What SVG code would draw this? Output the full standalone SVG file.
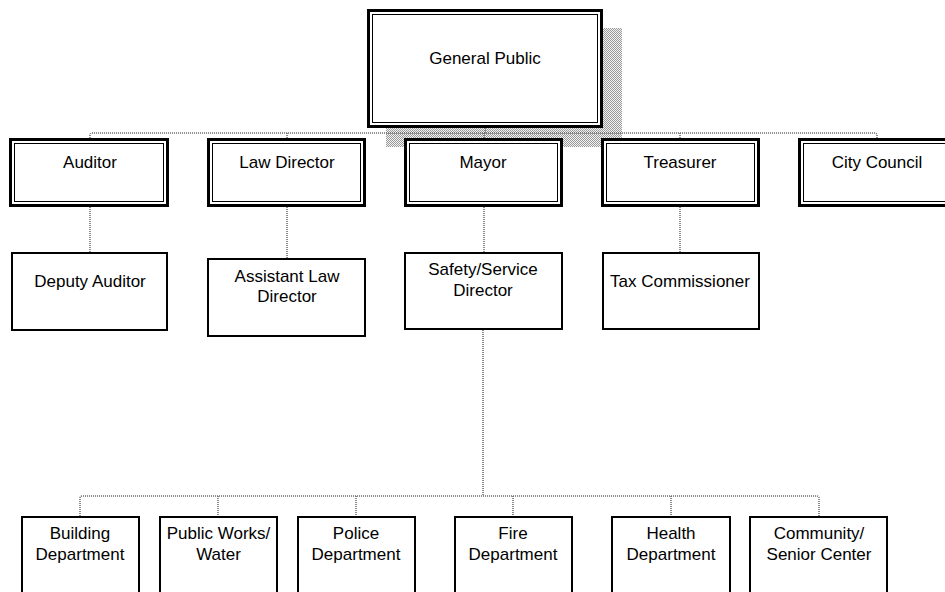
<svg xmlns="http://www.w3.org/2000/svg" width="945" height="592" viewBox="0 0 945 592">
<defs>
<pattern id="dither" patternUnits="userSpaceOnUse" width="2" height="2">
<rect width="2" height="2" fill="#f2f2f2"/>
<rect x="0" y="0" width="1" height="1" fill="#9a9a9a"/>
<rect x="1" y="1" width="1" height="1" fill="#9a9a9a"/>
</pattern>
</defs>
<style>
text{font-family:"Liberation Sans",Arial,Helvetica,sans-serif;font-size:17px;fill:#000;text-anchor:middle}
.o{fill:#fff;stroke:#000;stroke-width:3}
.i{fill:none;stroke:#000;stroke-width:1}
.s{fill:#fff;stroke:#000;stroke-width:2}
.c{fill:none;stroke:#666;stroke-width:1.5;stroke-dasharray:1 1}
</style>
<rect width="945" height="592" fill="#fff"/>
<g id="shadow">
<rect x="386" y="28" width="236" height="119" fill="url(#dither)"/>
</g>
<g id="connectors">
<path class="c" d="M485 128V133M90 138V135.5Q90 133 92.5 133H874.5Q877 133 877 135.5V138M287 133V138M484 133V138M680 133V138"/>
<path class="c" d="M90 207V252M287 207V258M484 207V252M680 207V252"/>
<path class="c" d="M483 330V496M80 516V498.5Q80 496 82.5 496H816.5Q819 496 819 498.5V516M218 496V516M356 496V516M513 496V516M671 496V516"/>
</g>
<g id="general-public">
<rect class="o" x="368.5" y="10.5" width="233" height="116"/>
<rect class="i" x="372.5" y="14.5" width="225" height="108"/>
<text x="485" y="64">General Public</text>
</g>
<g id="auditor">
<rect class="o" x="10.5" y="139.5" width="157" height="66"/>
<rect class="i" x="14.5" y="143.5" width="149" height="58"/>
<text x="90" y="168">Auditor</text>
</g>
<g id="law-director">
<rect class="o" x="208.5" y="139.5" width="156" height="66"/>
<rect class="i" x="212.5" y="143.5" width="148" height="58"/>
<text x="287" y="168">Law Director</text>
</g>
<g id="mayor">
<rect class="o" x="405.5" y="139.5" width="156" height="66"/>
<rect class="i" x="409.5" y="143.5" width="148" height="58"/>
<text x="483" y="168">Mayor</text>
</g>
<g id="treasurer">
<rect class="o" x="602.5" y="139.5" width="156" height="66"/>
<rect class="i" x="606.5" y="143.5" width="148" height="58"/>
<text x="680" y="168">Treasurer</text>
</g>
<g id="city-council">
<rect class="o" x="799.5" y="139.5" width="156" height="66"/>
<rect class="i" x="803.5" y="143.5" width="148" height="58"/>
<text x="877" y="168">City Council</text>
</g>
<g id="deputy-auditor">
<rect class="s" x="12" y="253" width="155" height="77"/>
<text x="90" y="287">Deputy Auditor</text>
</g>
<g id="assistant-law-director">
<rect class="s" x="208" y="259" width="157" height="77"/>
<text x="287" y="282">Assistant Law</text>
<text x="287" y="302">Director</text>
</g>
<g id="safety-service-director">
<rect class="s" x="405" y="253" width="157" height="76"/>
<text x="483" y="275">Safety/Service</text>
<text x="483" y="296">Director</text>
</g>
<g id="tax-commissioner">
<rect class="s" x="603" y="253" width="156" height="76"/>
<text x="680" y="287">Tax Commissioner</text>
</g>
<g id="building-department">
<rect class="s" x="22" y="517" width="117" height="90"/>
<text x="80" y="539">Building</text>
<text x="80" y="560">Department</text>
</g>
<g id="public-works-water">
<rect class="s" x="160" y="517" width="117" height="90"/>
<text x="218.5" y="539">Public Works/</text>
<text x="218.5" y="560">Water</text>
</g>
<g id="police-department">
<rect class="s" x="298" y="517" width="117" height="90"/>
<text x="356" y="539">Police</text>
<text x="356" y="560">Department</text>
</g>
<g id="fire-department">
<rect class="s" x="455" y="517" width="117" height="90"/>
<text x="513" y="539">Fire</text>
<text x="513" y="560">Department</text>
</g>
<g id="health-department">
<rect class="s" x="612" y="517" width="118" height="90"/>
<text x="671" y="539">Health</text>
<text x="671" y="560">Department</text>
</g>
<g id="community-senior-center">
<rect class="s" x="750" y="517" width="137" height="90"/>
<text x="819" y="539">Community/</text>
<text x="819" y="560">Senior Center</text>
</g>
</svg>
